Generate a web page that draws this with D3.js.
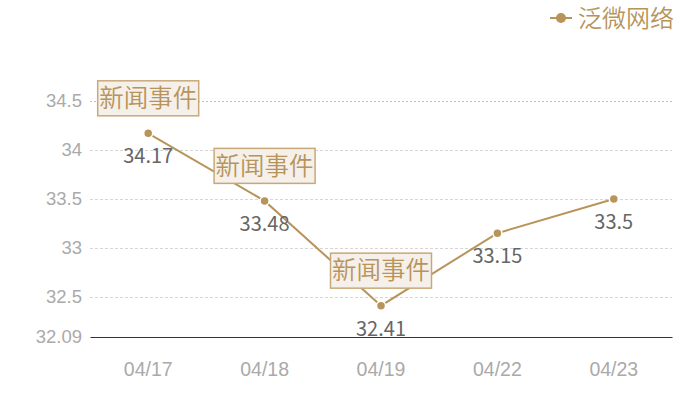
<!DOCTYPE html>
<html>
<head>
<meta charset="utf-8">
<script src="https://cdn.jsdelivr.net/npm/d3@7"></script>
<style>
  html, body { margin:0; padding:0; background:#fff; }
  svg { display:block; font-family:"Noto Sans CJK SC","Noto Sans",sans-serif; }
  .cjk { font-weight:350; }
</style>
</head>
<body>
<svg id="chart" width="700" height="400"></svg>
<script>
const dates   = ['04/17','04/18','04/19','04/22','04/23'];
const prices  = [34.17, 33.48, 32.41, 33.15, 33.5];
const events  = ['04/17','04/18','04/19'];   // days marked 新闻事件
const yTicks  = [32.09, 32.5, 33, 33.5, 34, 34.5];
const seriesName = '泛微网络';
const eventLabel = '新闻事件';

const data = dates.map((d,i) => ({date:d, value:prices[i]}));

const gold = '#b8945a';
const svg = d3.select('#chart');
const margin = {top:101, right:28, bottom:63, left:90};
const w = 700 - margin.left - margin.right;
const h = 400 - margin.top - margin.bottom;
const g = svg.append('g').attr('transform', `translate(${margin.left},${margin.top})`);

const x = d3.scaleBand().domain(dates).range([0,w]);
const y = d3.scaleLinear().domain([32.09, 34.5]).range([h,0]);
const cx = d => x(d.date) + x.bandwidth()/2;

// grid
g.selectAll('.grid').data(yTicks.filter(t => t > 32.09)).join('line')
  .attr('class','grid')
  .attr('x1',0).attr('x2',w)
  .attr('y1',d=>Math.round(y(d))+0.5).attr('y2',d=>Math.round(y(d))+0.5)
  .attr('stroke', d => d === 34.5 ? '#bbb' : '#d6d6d6')
  .attr('stroke-dasharray', d => d === 34.5 ? '2,2' : '3,2');

// y axis labels
const yAxis = g.append('g').call(d3.axisLeft(y).tickValues(yTicks).tickSize(0).tickPadding(8)
  .tickFormat(d => d));
yAxis.select('.domain').remove();
yAxis.selectAll('text').attr('fill','#aaa').style('font-size','18.5px')
  .attr('font-family',null);

// x axis
const xAxis = g.append('g').attr('transform',`translate(0,${h})`)
  .call(d3.axisBottom(x).tickSize(0).tickPadding(25));
xAxis.select('.domain').attr('stroke','#333');
xAxis.selectAll('text').attr('fill','#aaa').style('font-size','19.5px')
  .attr('font-family',null);

// line
g.append('path').datum(data)
  .attr('fill','none').attr('stroke',gold).attr('stroke-width',2)
  .attr('d', d3.line().x(cx).y(d=>y(d.value)));

g.selectAll('.pt').data(data).join('circle')
  .attr('class','pt')
  .attr('cx',cx).attr('cy',d=>y(d.value)).attr('r',4.5)
  .attr('fill',gold).attr('stroke','#fff').attr('stroke-width',1.5);

g.selectAll('.val').data(data).join('text')
  .attr('class','val')
  .attr('x',cx).attr('y',d=>y(d.value)+30)
  .attr('text-anchor','middle').attr('fill','#666')
  .style('font-size','20px')
  .text(d=>d.value);

// event markers
const ev = g.selectAll('.ev').data(data.filter(d => events.includes(d.date))).join('g')
  .attr('class','ev')
  .attr('transform', d => `translate(${cx(d)},${y(d.value)-35})`);
ev.append('rect')
  .attr('x',-50.5).attr('y',-17.5).attr('width',101).attr('height',35)
  .attr('fill','#f5f0ea').attr('stroke','#c9a878').attr('stroke-width',1.5);
ev.append('text')
  .attr('class','cjk')
  .attr('text-anchor','middle').attr('dy','0.36em')
  .attr('fill',gold).style('font-size','24.5px')
  .text(eventLabel);

// legend
const lg = svg.append('g').attr('transform','translate(550,18)');
lg.append('line').attr('x1',0).attr('x2',22).attr('stroke',gold).attr('stroke-width',2);
lg.append('circle').attr('cx',11).attr('r',5).attr('fill',gold);
lg.append('text').attr('class','cjk').attr('x',28).attr('dy','0.36em')
  .attr('fill',gold).style('font-size','24px').text(seriesName);
</script>
</body>
</html>
